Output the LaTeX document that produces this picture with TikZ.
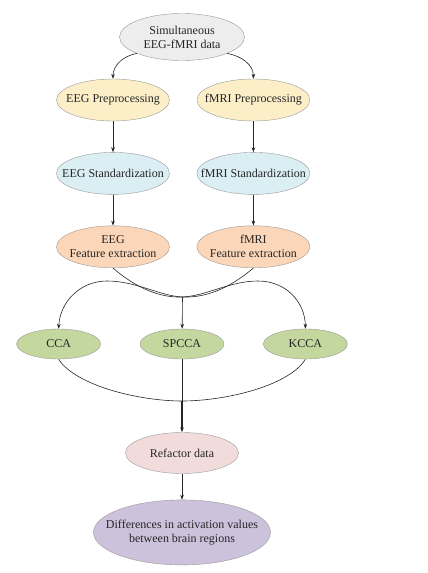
\documentclass[tikz,border=0pt]{standalone}
\usepackage{fontspec}
\setmainfont{Liberation Serif}
\usetikzlibrary{arrows.meta,positioning,shapes.geometric}

\definecolor{srcgray}{HTML}{EDEDED}
\definecolor{prefill}{HTML}{FCEFC8}
\definecolor{stdfill}{HTML}{DAEEF3}
\definecolor{featfill}{HTML}{FBD6B8}
\definecolor{ccafill}{HTML}{C4D79E}
\definecolor{reffill}{HTML}{F2DCDB}
\definecolor{difffill}{HTML}{CDC2DB}

\begin{document}
\begin{tikzpicture}[
  x=1pt,y=1pt,
  node distance=31pt and 27pt,
  eln/.style={ellipse,draw=black!40,inner xsep=-25pt,inner ysep=-6pt,align=center,
    text=black!85,font=\fontsize{12}{14}\selectfont,minimum width=113pt,minimum height=42pt},
  cca/.style={eln,fill=ccafill,minimum width=84pt,minimum height=30pt},
  arc/.style={-{Stealth[length=5pt,width=3.6pt]},black!85,line width=0.6pt},
  plain/.style={black!85,line width=0.6pt},
]
  \useasboundingbox (0,0) rectangle (428,-573);

  \node[eln,fill=srcgray,minimum width=125pt,minimum height=47pt] (Src) at (182,-37) {Simultaneous\\EEG-fMRI data};
  \node[eln,fill=prefill] (EEGpre) at (113,-100) {EEG Preprocessing};
  \node[eln,fill=prefill,right=of EEGpre] (fMRIpre) {fMRI Preprocessing};
  \node[eln,fill=stdfill,below=of EEGpre] (EEGstd) {EEG Standardization};
  \node[eln,fill=stdfill,below=of fMRIpre] (fMRIstd) {fMRI Standardization};
  \node[eln,fill=featfill,below=of EEGstd] (EEGfeat) {EEG\\Feature extraction};
  \node[eln,fill=featfill,below=of fMRIstd] (fMRIfeat) {fMRI\\Feature extraction};

  \node[cca] (SPCCA) at (182,-344) {SPCCA};
  \node[cca,left=39pt of SPCCA] (CCA) {CCA};
  \node[cca,right=39pt of SPCCA] (KCCA) {KCCA};

  \node[eln,fill=reffill,minimum height=41pt] (Refactor) at (182,-453) {Refactor data};
  \node[eln,fill=difffill,minimum width=177pt,minimum height=65pt,below=26pt of Refactor] (Diff)
    {Differences in activation values\\between brain regions};

  \coordinate (Split) at (182.5,-297);
  \coordinate (Join) at (182,-401);

  % Source splits into the two branches
  \draw[arc] (Src.200) to[out=190,in=90] (EEGpre);
  \draw[arc] (Src.340) to[out=-10,in=90] (fMRIpre);

  % EEG / fMRI chains
  \draw[arc] (EEGpre) -- (EEGstd);
  \draw[arc] (EEGstd) -- (EEGfeat);
  \draw[arc] (fMRIpre) -- (fMRIstd);
  \draw[arc] (fMRIstd) -- (fMRIfeat);

  % Crossing curves into the three methods
  \draw[arc] (EEGfeat.south) .. controls (136,-288) and (160,-298) .. (Split)
    .. controls (206,-296) and (230,-281) .. (258,-281)
    .. controls (286,-281) and (305,-302) .. (KCCA.north);
  \draw[arc] (fMRIfeat.south) .. controls (230,-288) and (206,-298) .. (Split)
    .. controls (160,-296) and (136,-281) .. (107,-281)
    .. controls (80,-281) and (60,-302) .. (CCA.north);
  \draw[arc] (Split) -- (SPCCA);

  % Methods merge into the refactored data
  \draw[plain] (CCA.south) .. controls (76,-386) and (140,-401) .. (Join)
    .. controls (225,-401) and (289,-386) .. (KCCA.south);
  \draw[plain] (SPCCA) -- (Join);
  \draw[arc,line width=1.2pt] (Join) -- (Refactor);
  \draw[arc] (Refactor) -- (Diff);
\end{tikzpicture}
\end{document}
